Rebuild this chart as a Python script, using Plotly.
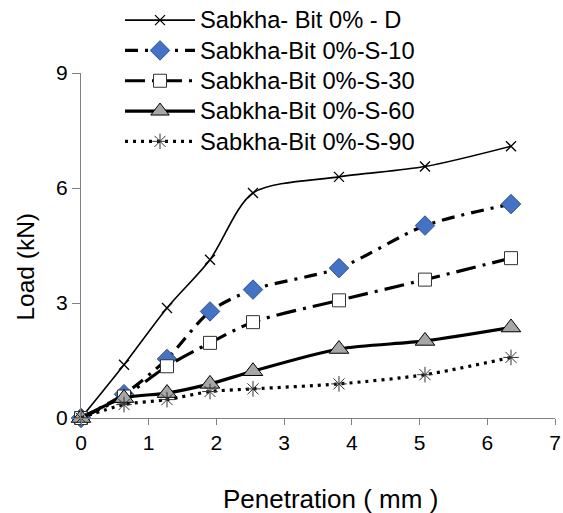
import plotly.graph_objects as go

# Penetration (mm) and measured load (kN) for each test series
penetration = [0, 0.635, 1.27, 1.905, 2.54, 3.81, 5.08, 6.35]
load_d = [0, 1.39, 2.87, 4.13, 5.87, 6.29, 6.56, 7.09]
load_s10 = [0, 0.62, 1.54, 2.78, 3.35, 3.91, 5.02, 5.58]
load_s30 = [0, 0.56, 1.35, 1.96, 2.50, 3.07, 3.61, 4.17]
load_s60 = [0, 0.52, 0.65, 0.89, 1.22, 1.80, 2.01, 2.36]
load_s90 = [0, 0.35, 0.48, 0.69, 0.76, 0.89, 1.13, 1.58]

names = [
    "Sabkha- Bit 0% - D",
    "Sabkha-Bit 0%-S-10",
    "Sabkha-Bit 0%-S-30",
    "Sabkha-Bit 0%-S-60",
    "Sabkha-Bit 0%-S-90",
]
x_title = "Penetration ( mm )"
y_title = "Load (kN)"

FONT = "Arial, Liberation Sans, sans-serif"
W, H = 563, 513

styles = [
    dict(line=dict(color="black", width=1.6),
         marker=dict(symbol="x-thin-open", size=10, color="black",
                     line=dict(color="black", width=1.3))),
    dict(line=dict(color="black", width=3.2, dash="13px,7px,3px,7px"),
         marker=dict(symbol="diamond", size=15, color="#4472C4",
                     line=dict(color="#2F528F", width=1))),
    dict(line=dict(color="black", width=3.2, dash="20px,7px,3px,7px"),
         marker=dict(symbol="square", size=13, color="white",
                     line=dict(color="#333333", width=1))),
    dict(line=dict(color="black", width=3.2),
         marker=dict(symbol="triangle-up", size=17, color="#A6A6A6",
                     line=dict(color="black", width=1))),
    dict(line=dict(color="black", width=3.2, dash="3px,5px"),
         marker=dict(symbol="asterisk-open", size=13, color="#333333",
                     line=dict(color="#333333", width=1))),
]

series = [load_d, load_s10, load_s30, load_s60, load_s90]

fig = go.Figure()
for name, ys, st in zip(names, series, styles):
    fig.add_trace(go.Scatter(
        x=penetration, y=ys, mode="lines+markers",
        # legend rows are spaced by the 21px legend font; labels drawn larger
        name=f'<span style="font-size:23.7px">{name}</span>',
        line=dict(shape="spline", smoothing=0.8, **st["line"]),
        marker=st["marker"], cliponaxis=False,
    ))

fig.update_layout(
    width=W, height=H,
    margin=dict(l=81, r=8, t=73, b=95, autoexpand=False),
    paper_bgcolor="white", plot_bgcolor="white",
    font=dict(family=FONT, size=22, color="black"),
    showlegend=True,
    legend=dict(
        xref="container", yref="container",
        x=120 / W, y=1 + 2.5 / H, xanchor="left", yanchor="top",
        bgcolor="rgba(0,0,0,0)", font=dict(family=FONT, size=21),
        itemwidth=70, tracegroupgap=0, traceorder="normal",
    ),
    xaxis=dict(
        range=[0, 7], tickvals=list(range(0, 8)),
        tickfont=dict(size=21),
        showline=True, linecolor="#808080", linewidth=1.3,
        ticks="outside", ticklen=6, tickcolor="#808080",
        showgrid=False, zeroline=False,
    ),
    yaxis=dict(
        range=[0, 9], tickvals=[0, 3, 6, 9],
        tickfont=dict(size=21),
        showline=True, linecolor="#808080", linewidth=1.3,
        ticks="outside", ticklen=8, tickcolor="#808080",
        showgrid=False, zeroline=False,
    ),
    annotations=[
        dict(text=x_title, xref="paper", yref="paper", x=0.527, y=-0.2335,
             xanchor="center", yanchor="middle", showarrow=False,
             font=dict(family=FONT, size=26)),
        dict(text=y_title, xref="paper", yref="paper", x=-0.116, y=0.439,
             xanchor="center", yanchor="middle", showarrow=False,
             textangle=-90, font=dict(family=FONT, size=24.5)),
    ],
)

fig.write_html("out.html")
